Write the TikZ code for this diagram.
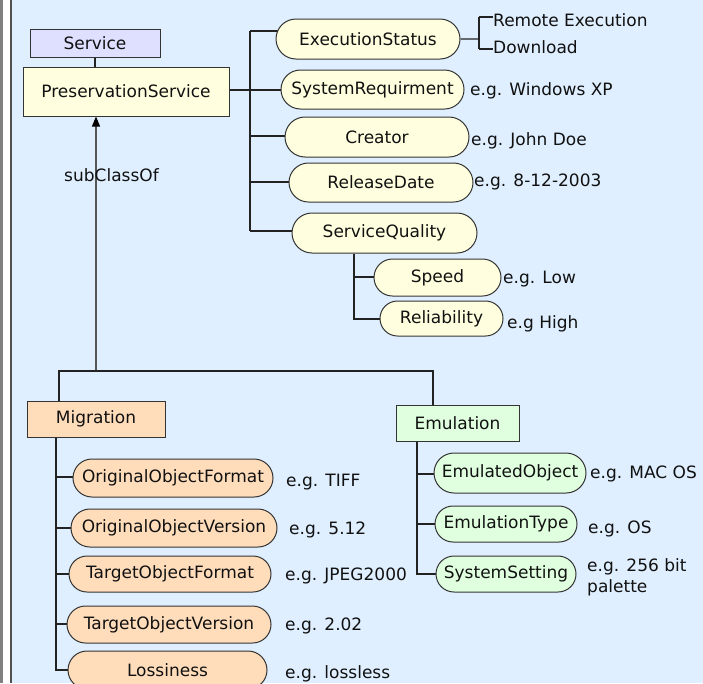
\documentclass[tikz,border=0pt]{standalone}
\usepackage{fontspec}
\setmainfont{DejaVu Sans}
\usetikzlibrary{arrows.meta,shapes.misc}
\pgfdeclarelayer{bgl}
\pgfdeclarelayer{lines}
\pgfsetlayers{bgl,lines,main}
\definecolor{bgblue}{HTML}{DFEFFF}
\definecolor{svcfill}{HTML}{DFDFFF}
\definecolor{yelfill}{HTML}{FFFFE0}
\definecolor{migfill}{HTML}{FFDDBB}
\definecolor{emufill}{HTML}{DFFFDF}
\definecolor{bordc}{HTML}{333333}
\definecolor{linec}{HTML}{222222}
\definecolor{trunkc}{HTML}{555555}
\definecolor{txtc}{HTML}{111111}
\definecolor{edgegray}{HTML}{808080}
\definecolor{edgedark}{HTML}{505050}
\newcommand\dgfont{\fontsize{17}{21}\selectfont}
\begin{document}
\begin{tikzpicture}[x=1pt,y=-1pt,
  rbox/.style={draw=bordc, line width=1pt, inner sep=0pt, text=txtc, font=\dgfont},
  pill/.style={rbox, rounded rectangle},
  lab/.style={inner sep=0pt, anchor=base west, text=txtc, font=\dgfont},
  conn/.style={draw=linec, line width=1.2pt},
  trunk/.style={draw=trunkc, line width=1.2pt}]
\useasboundingbox (0,0) rectangle (703,683);
\clip (0,0) rectangle (703,683);
\begin{pgfonlayer}{bgl}
\fill[bgblue] (12,0) rectangle (703,683);
\fill[edgegray] (0,0) rectangle (3,683);
\fill[white] (3,0) rectangle (10,683);
\fill[edgedark] (10,0) rectangle (12,683);
\end{pgfonlayer}

% class boxes
\node[rbox, fill=svcfill, minimum width=130pt, minimum height=28pt] (svc) at (95,43) {Service};
\node[rbox, fill=yelfill, minimum width=206pt, minimum height=49pt] (ps) at (126,91.5) {PreservationService};
\node[rbox, fill=migfill, minimum width=138pt, minimum height=36pt] (mig) at (96,419) {Migration};
\node[rbox, fill=emufill, minimum width=123pt, minimum height=36pt] (emu) at (457.5,423) {Emulation};

% properties of PreservationService
\node[pill, fill=yelfill, minimum width=184pt, minimum height=40pt] (es) at (368,39) {ExecutionStatus};
\node[pill, fill=yelfill, minimum width=183pt, minimum height=39pt] (sr) at (372.5,89.5) {SystemRequirment};
\node[pill, fill=yelfill, minimum width=184pt, minimum height=40pt] (cr) at (377,137) {Creator};
\node[pill, fill=yelfill, minimum width=184pt, minimum height=39pt] (rd) at (381,182.5) {ReleaseDate};
\node[pill, fill=yelfill, minimum width=185pt, minimum height=40pt] (sq) at (384.5,233) {ServiceQuality};
\node[pill, fill=yelfill, minimum width=127pt, minimum height=37pt] (sp) at (437.5,277.5) {Speed};
\node[pill, fill=yelfill, minimum width=123pt, minimum height=35pt] (rel) at (441.5,318.5) {Reliability};

% properties of Migration
\node[pill, fill=migfill, minimum width=200pt, minimum height=38pt] (oof) at (173,478) {OriginalObjectFormat};
\node[pill, fill=migfill, minimum width=206pt, minimum height=38pt] (oov) at (174,528) {OriginalObjectVersion};
\node[pill, fill=migfill, minimum width=202pt, minimum height=36pt] (tof) at (170,574) {TargetObjectFormat};
\node[pill, fill=migfill, minimum width=204pt, minimum height=37pt] (tov) at (169,624.5) {TargetObjectVersion};
\node[pill, fill=migfill, minimum width=199pt, minimum height=38pt] (los) at (167.5,670) {Lossiness};

% properties of Emulation
\node[pill, fill=emufill, minimum width=152pt, minimum height=40pt] (eo) at (510,473) {EmulatedObject};
\node[pill, fill=emufill, minimum width=142pt, minimum height=36pt] (et) at (506,524) {EmulationType};
\node[pill, fill=emufill, minimum width=140pt, minimum height=36pt] (ss) at (506,574) {SystemSetting};

% value labels
\node[lab] (tre) at (493,26) {Remote Execution};
\node[lab] (tdl) at (493,53) {Download};
\node[lab] (twin) at (470,95) {e.g. Windows XP};
\node[lab] (tjd) at (471,145.5) {e.g. John Doe};
\node[lab] (tdate) at (474,186) {e.g. 8-12-2003};
\node[lab] (tlow) at (503,283) {e.g. Low};
\node[lab] (thigh) at (507,328) {e.g High};
\node[lab] (ttiff) at (286,486.5) {e.g. TIFF};
\node[lab] (t512) at (289,534) {e.g. 5.12};
\node[lab] (tjpeg) at (285,580) {e.g. JPEG2000};
\node[lab] (t202) at (285,630) {e.g. 2.02};
\node[lab] (tloss) at (285,678) {e.g. lossless};
\node[lab] (tmac) at (590,478) {e.g. MAC OS};
\node[lab] (tos) at (588,533) {e.g. OS};
\node[lab] (t256) at (587,571) {e.g. 256 bit};
\node[lab] (tpal) at (587,592) {palette};
\node[lab, anchor=base] (tsub) at (111.5,181) {subClassOf};

\begin{pgfonlayer}{lines}
% Service -- PreservationService
\draw[conn] (svc.south) -- (ps.north -| svc.south);
% bus of PreservationService properties
\coordinate (busT) at (250,31);
\coordinate (bSR) at (250,90);
\coordinate (bCR) at (250,136);
\coordinate (bRD) at (250,182);
\coordinate (busB) at (250,231);
\draw[conn] (busT) -- (busB);
\draw[conn] (busT) -- (es.center |- busT);
\draw[conn] (ps.center |- bSR) -- (sr.center |- bSR);
\draw[conn] (bCR) -- (cr.center |- bCR);
\draw[conn] (bRD) -- (rd.center |- bRD);
\draw[conn] (busB) -- (sq.center |- busB);
% ExecutionStatus values
\coordinate (esj) at (479,39);
\coordinate (esT) at (479,17);
\coordinate (esB) at (479,49);
\draw[conn] (es) -- (esj);
\draw[conn] (esT) -- (esB);
\draw[conn] (esT) -- (tre.west |- esT);
\draw[conn] (esB) -- (tdl.west |- esB);
% ServiceQuality children
\coordinate (sqsp) at (354,277);
\coordinate (sqx) at (354,319);
\draw[conn] (sq.south -| sqx) -- (sqx) -- (rel.center |- sqx);
\draw[conn] (sqsp) -- (sp.center |- sqsp);
% subClassOf trunk
\coordinate (tr) at (96,371);
\coordinate (hl) at (59,371);
\coordinate (hr) at (433,371);
\draw[trunk, -{Triangle[length=10pt,width=8pt,color=black]}] (tr) -- (ps.south -| tr);
\draw[conn] (mig.north -| hl) -- (hl) -- (hr) -- (emu.north -| hr);
% Migration properties
\coordinate (m1) at (56,477);
\coordinate (m2) at (56,528);
\coordinate (m3) at (56,574);
\coordinate (m4) at (56,624);
\coordinate (m5) at (56,670);
\draw[conn] (mig.south -| m5) -- (m5) -- (los.center |- m5);
\draw[conn] (m1) -- (oof.center |- m1);
\draw[conn] (m2) -- (oov.center |- m2);
\draw[conn] (m3) -- (tof.center |- m3);
\draw[conn] (m4) -- (tov.center |- m4);
% Emulation properties
\coordinate (e1) at (417,474);
\coordinate (e2) at (417,524);
\coordinate (e3) at (417,574);
\draw[conn] (emu.south -| e3) -- (e3) -- (ss.center |- e3);
\draw[conn] (e1) -- (eo.center |- e1);
\draw[conn] (e2) -- (et.center |- e2);
\end{pgfonlayer}
\end{tikzpicture}
\end{document}
